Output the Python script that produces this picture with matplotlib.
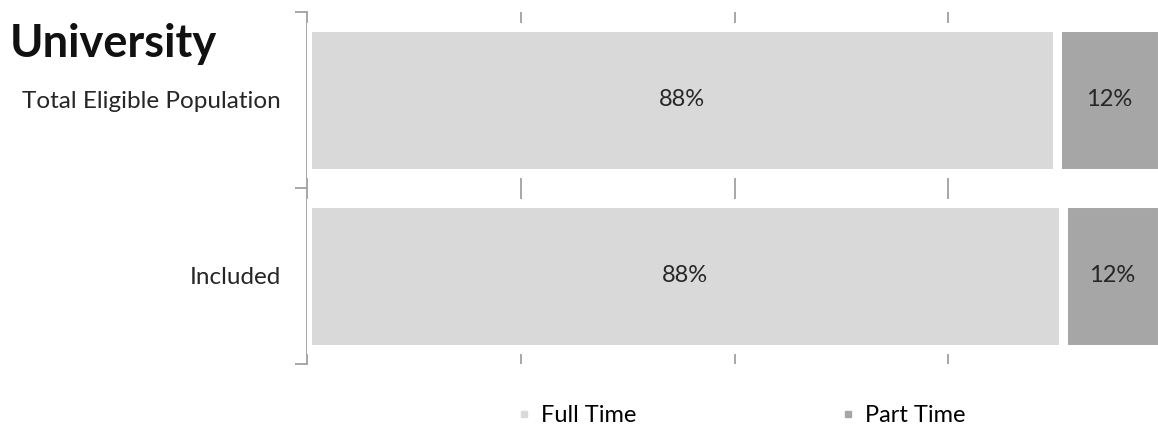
import matplotlib
matplotlib.use("Agg")
import matplotlib.pyplot as plt
from matplotlib.lines import Line2D

plt.rcParams['font.family'] = ['Lato', 'DejaVu Sans']

categories = ["Total Eligible Population", "Included"]
full_time = [87.7, 88.4]
part_time = [12.3, 11.6]
series_names = ["Full Time", "Part Time"]
colors = ["#d9d9d9", "#a6a6a6"]

fig = plt.figure(figsize=(11.58, 4.28), dpi=100)
ax = fig.add_axes([307 / 1158, (428 - 364) / 428, 855 / 1158, 352 / 428])

y = list(range(len(categories)))
bars_ft = ax.barh(y, full_time, height=0.825, color=colors[0], edgecolor="white",
                  linewidth=6.5, zorder=3)
bars_pt = ax.barh(y, part_time, left=full_time, height=0.825, color=colors[1],
                  edgecolor="white", linewidth=6.5, zorder=3)

for bars, vals, lefts in ((bars_ft, full_time, [0] * len(full_time)),
                          (bars_pt, part_time, full_time)):
    for yi, v, l in zip(y, vals, lefts):
        ax.text(l + v / 2, yi, f"{round(v):.0f}%", ha="center", va="center",
                fontsize=17, color="#262626", zorder=4)

ax.set_xlim(0, 100)
ax.set_ylim(len(categories) - 0.5, -0.5)
ax.set_xticks([25, 50, 75])
ax.xaxis.grid(True, color="#a0a0a0", linewidth=1.3, zorder=0)
ax.tick_params(axis="x", length=0, labelbottom=False)

ax.set_yticks([-0.5, 0.5, 1.5], minor=False)
ax.set_yticklabels([])
ax.set_yticks(y, minor=True)
ax.set_yticklabels(categories, minor=True, fontsize=17.5, color="#262626")
ax.tick_params(axis="y", which="major", length=9, width=1.3, color="#a0a0a0")
ax.tick_params(axis="y", which="minor", length=0, pad=19)

for side in ("top", "right", "bottom"):
    ax.spines[side].set_visible(False)
ax.spines["left"].set_color("#a0a0a0")
ax.spines["left"].set_linewidth(1.3)

fig.text(10 / 1158, 1 - 44 / 428, "University", fontsize=32.5, fontweight="bold",
         ha="left", va="center", color="#111111")

handles = [Line2D([], [], marker="s", linestyle="none", markersize=4,
                  markerfacecolor=c, markeredgecolor=c) for c in colors]
fig.legend(handles, series_names, loc="center", bbox_to_anchor=(740 / 1158, 1 - 416 / 428),
           ncol=2, frameon=False, fontsize=17, columnspacing=8.6, handletextpad=0.3,
           handlelength=0.8)

fig.savefig("out.png", dpi=100)
